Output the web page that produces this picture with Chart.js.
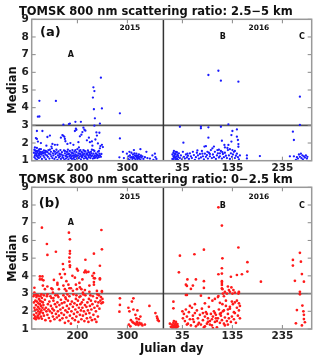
<!DOCTYPE html>
<html><head><meta charset="utf-8">
<script src="https://cdn.jsdelivr.net/npm/chart.js@4.4.1/dist/chart.umd.min.js"></script>
<style>
html,body{margin:0;padding:0;background:#fff;width:320px;height:362px;overflow:hidden;}
canvas{position:absolute;left:0;}
#ca{top:0;}
#cb{top:168px;}
</style></head><body>
<canvas id="ca" width="320" height="180"></canvas>
<canvas id="cb" width="320" height="194"></canvas>
<script>
// ---------- axis definitions ----------
const OFFSET_2016 = 375;          // axis value of 2016 Julian day 0
const DIVIDER_X = 372;            // year boundary
const X_MIN = 108.6, X_MAX = 668.6;
const xTickValues = [200, 300, 410, 510, 610];
const xTickLabels = ['200', '300', '35', '135', '235'];
const yTickValues = [1, 2, 3, 4, 5, 6, 7, 8, 9];
const THRESHOLD = 3;

// ---------- panel (a) 2.5-5 km : [Julian day, median] ----------
const a2015 = [
[121,3.49],[124,3.5],[124,4.39],[157,4.38],[172,3.04],[183,3.07],[185,3.1],[196,3.2],[207,3.2],[232,5.15],[234,4.94],[231,4.57],[233,3.91],[235,3.4],[234,2.98],[247,5.7],[249,3.96],[245,3.1],[285,3.68],[285,2.26],[284,1.19],
[119,2.68],[130,2.68],[117,2.28],[119,2.23],[121,2.08],[140,2.34],[145,2.42],[167,2.3],[172,2.4],[175,2.23],[195,2.68],[197,2.81],[210,2.62],[212,2.87],[214,2.75],[205,2.38],[208,2.47],[219,2.15],[229,2.09],[239,2.42],[244,2.58],[246,1.83],[249,1.9],[251,1.77],[170,2.45],[174,2.35],[176,2.1],[198,2.75],[202,2.05],[216,2.7],[223,2.3],[225,2.05],[236,2.2],[238,2.6],[241,1.98],[186,2.0],[180,1.95],[160,1.9],[150,1.95],[155,1.9],[115,1.75],[127,2.0],[138,1.85],[148,1.8],[192,1.9],[203,1.75],[230,1.85],[232,1.6],[245,1.7],
[113,1.45],[114,1.2],[114,1.62],[115,1.3],[116,1.12],[117,1.5],[118,1.38],[119,1.05],[119,1.72],[120,1.25],[121,1.55],[122,1.4],[123,1.15],[123,1.6],[124,1.32],[125,1.48],[126,1.22],[127,1.65],[128,1.35],[129,1.1],[130,1.5],[131,1.42],[132,1.28],[133,1.58],[134,1.18],[135,1.45],[136,1.35],[137,1.08],[138,1.52],[139,1.3],[141,1.22],[142,1.6],[143,1.4],[144,1.12],[146,1.35],[147,1.5],[148,1.25],[149,1.7],[150,1.15],[151,1.42],[152,1.3],[153,1.55],[154,1.1],[156,1.38],[157,1.2],[158,1.62],[159,1.45],[160,1.05],[161,1.3],[162,1.52],[163,1.18],[164,1.4],[165,1.25],[166,1.6],[167,1.1],[168,1.35],[169,1.48],[170,1.2],[171,1.3],[172,1.15],[173,1.58],[174,1.05],[175,1.42],[176,1.28],[177,1.12],[178,1.5],[179,1.35],[180,1.2],[181,1.62],[182,1.08],[183,1.4],[184,1.25],[185,1.55],[186,1.15],[187,1.32],[188,1.45],[189,1.1],[190,1.6],[191,1.28],[192,1.4],[193,1.18],[194,1.52],[195,1.05],[196,1.35],[197,1.22],[198,1.48],[199,1.12],[200,1.65],[201,1.3],[202,1.42],[203,1.15],[204,1.55],[205,1.25],[206,1.38],[207,1.08],[208,1.5],[209,1.2],[210,1.45],[211,1.32],[212,1.6],[213,1.12],[214,1.4],[215,1.25],[216,1.52],[217,1.18],[218,1.35],[219,1.42],[220,1.1],[221,1.58],[222,1.28],[223,1.2],[224,1.45],[225,1.35],[226,1.15],[227,1.5],[228,1.25],[229,1.62],[230,1.3],[231,1.12],[232,1.4],[233,1.22],[234,1.55],[235,1.3],[236,1.18],[237,1.42],[238,1.25],[239,1.35],[240,1.15],[241,1.5],[242,1.28],[243,1.2],[244,1.4],[245,1.3],[247,1.22],[248,1.38],
[116,1.4],[118,1.55],[120,1.48],[122,1.3],[124,1.65],[126,1.5],[128,1.45],[118,1.28],[115,1.58],[121,1.18],[125,1.38],[132,1.45],[136,1.55],[140,1.48],[145,1.62],[155,1.5],[165,1.35],[178,1.25],[182,1.38],[188,1.22],[192,1.12],[198,1.3],[204,1.4],[210,1.22],[214,1.55],[218,1.15],[222,1.48],[226,1.3],[190,1.45],[185,1.3],[175,1.55],[180,1.5],[200,1.25],[206,1.6],[212,1.35],[216,1.25],[208,1.3],[196,1.6],[194,1.28],[202,1.15],[220,1.35],[228,1.42],[234,1.15],[240,1.3],[243,1.55],
[291,1.5],[293,1.15],[299,1.4],[301,1.1],[302,1.25],[304,1.05],[305,1.3],[306,1.18],[308,1.45],[309,1.2],[310,1.1],[311,1.35],[312,1.22],[313,1.6],[314,1.15],[315,1.3],[316,1.08],[317,1.25],[318,1.4],[319,1.18],[320,1.1],[321,1.28],[322,1.2],[323,1.35],[324,1.12],[325,1.22],[326,1.05],[327,1.3],[328,1.18],[330,1.25],[332,1.1],[335,1.2],[338,1.5],[340,1.15],[345,1.12],[350,1.3],[352,1.05],[355,1.4],[356,1.2],[358,1.1],[304,1.5],[311,1.15],[314,1.42],[321,1.12],[326,1.65],[318,1.28]
];
const a2016 = [
[87,5.85],[107,6.09],[112,5.53],[147,5.47],[270,4.62],[270,3.02],[256,2.64],[258,2.17],[127,3.06],[112,2.92],[87,2.89],[72,2.92],[72,2.83],[30,2.92],[144,2.77],[135,2.68],[87,2.3],[37,2.02],[79,1.8],[82,1.82],[114,2.13],[119,1.89],[127,1.89],[133,2.08],[133,2.45],[144,2.36],[146,2.17],[147,1.94],[147,1.79],[190,1.26],[164,1.3],[164,1.13],
[15,1.1],[15,1.35],[16,1.05],[17,1.25],[17,1.45],[18,1.15],[19,1.3],[20,1.02],[20,1.4],[21,1.18],[22,1.08],[22,1.5],[23,1.25],[24,1.12],[25,1.35],[26,1.05],[27,1.2],[28,1.42],[30,1.15],[32,1.3],[34,1.08],[36,1.5],[38,1.22],[40,1.12],[42,1.35],[44,1.18],[46,1.28],[48,1.1],[50,1.42],[52,1.25],[54,1.15],[56,1.5],[58,1.32],[60,1.05],[62,1.2],[64,1.45],[66,1.3],[68,1.12],[70,1.38],[72,1.18],[74,1.55],[76,1.25],[78,1.08],[80,1.4],[82,1.22],[84,1.32],[86,1.12],[88,1.45],[90,1.25],[92,1.6],[94,1.15],[96,1.35],[98,1.2],[100,1.5],[102,1.1],[104,1.3],[106,1.42],[108,1.18],[110,1.25],[112,1.55],[114,1.12],[116,1.38],[118,1.2],[120,1.45],[122,1.28],[124,1.15],[126,1.6],[128,1.3],[130,1.1],[132,1.42],[134,1.22],[136,1.35],[138,1.5],[140,1.15],[142,1.28],[144,1.4],[146,1.2],[148,1.08],[150,1.3],[18,1.55],[19,1.2],[21,1.38],[23,1.1],[24,1.48],[26,1.28],[45,1.4],[65,1.58],[85,1.5],[95,1.7],[105,1.6],[115,1.48],[125,1.72],[135,1.6],[98,1.8],[108,1.62],[120,1.75],[130,1.65],[140,1.55],[110,1.42],[90,1.38],[75,1.4],
[258,1.25],[262,1.05],[264,1.2],[266,1.12],[268,1.35],[270,1.22],[272,1.4],[273,1.15],[275,1.3],[276,1.08],[278,1.25],[280,1.18],[282,1.3],[284,1.12],[285,1.22],[250,1.25]
];

// ---------- panel (b) 0-2.5 km : [Julian day, median] ----------
const b2015 = [
[129,6.72],[139,5.8],[140,5.18],[157,5.36],[183,6.44],[185,6.06],[185,5.4],[185,5.26],[184,5.03],[184,4.8],[185,4.6],[185,4.5],[248,6.59],[249,5.5],[245,4.57],[233,5.25],[216,4.91],[245,3.8],[249,3.14],[233,4.15],[233,3.87],
[125,3.97],[130,3.97],[132,3.75],[125,3.8],[129,3.8],[114,3.33],[114,3.05],[171,4.67],[172,4.37],[175,4.1],[165,4.1],[153,3.77],[199,4.39],[201,4.3],[214,4.2],[216,4.3],[218,4.2],[222,4.23],[235,3.86],[233,3.65],[233,3.5],[245,3.86],[224,3.45],[205,3.35],[208,3.25],[197,3.5],[199,3.25],[191,3.16],[184,3.3],[187,3.3],[172,3.45],[175,3.25],[163,3.25],[150,3.25],[148,3.3],[131,3.45],[135,3.25],[151,3.05],[178,3.15],[239,3.15],[249,3.1],[215,3.2],[211,3.05],[224,3.1],[160,3.6],[168,3.9],[178,3.7],[190,4.0],[204,3.6],[210,3.8],[230,4.0],[140,3.4],[182,3.5],[195,3.9],[160,3.5],
[112,2.85],[113,2.5],[113,1.8],[114,2.2],[114,1.6],[115,2.95],[115,2.05],[116,1.7],[116,2.6],[117,1.55],[117,2.35],[118,2.8],[118,1.9],[119,2.1],[119,2.55],[120,1.65],[120,2.9],[121,2.25],[121,1.75],[122,2.45],[122,2.0],[123,1.6],[123,2.7],[124,2.15],[124,1.85],[125,2.6],[125,2.4],[126,1.95],[126,2.85],[127,1.7],[127,2.3],[128,2.55],[128,2.05],[129,1.58],[129,2.75],[130,2.2],[131,1.9],[131,2.5],[132,2.35],[133,1.75],[133,2.9],[134,2.1],[135,2.65],
[136,1.5],[137,2.2],[138,2.0],[139,2.85],[140,1.8],[141,2.4],[142,2.1],[143,1.62],[144,2.55],[145,2.0],[146,1.45],[147,2.3],[148,2.75],[149,1.9],[150,2.15],[151,1.7],[152,2.6],[153,2.05],[154,1.55],[155,2.4],[156,2.9],[157,1.85],[158,2.25],[159,1.65],[160,2.5],[161,2.0],[162,2.8],[163,1.75],[164,2.35],[165,1.5],[166,2.1],[167,2.65],[168,1.9],[169,2.45],[170,1.6],
[171,2.2],[172,2.9],[173,1.8],[174,2.5],[175,1.35],[176,2.05],[177,2.7],[178,1.65],[179,2.3],[180,1.95],[181,2.6],[182,1.45],[183,2.15],[184,2.85],[185,1.75],[186,2.4],[187,1.3],[188,2.0],[189,2.55],[190,1.6],[191,2.25],[192,2.95],[193,1.85],[194,2.45],[195,1.5],[196,2.1],[197,2.7],[198,1.7],[199,2.35],[200,1.95],[201,2.6],[202,1.4],[203,2.2],[204,2.8],[205,1.8],[206,2.4],[207,2.05],[208,1.55],[209,2.5],[210,2.2],
[211,1.75],[212,2.65],[213,2.0],[214,1.45],[215,2.35],[216,2.9],[217,1.85],[218,2.25],[219,1.6],[220,2.5],[221,2.05],[222,1.4],[223,2.7],[224,1.9],[225,2.3],[226,1.65],[227,2.6],[228,2.1],[229,1.5],[230,2.4],[231,2.85],[232,1.8],[234,2.2],[235,1.55],[236,2.55],[237,2.0],[238,1.4],[239,2.75],[240,2.3],[241,1.7],[242,2.5],[243,2.9],[244,2.15],[246,2.6],[247,2.8],[248,2.45],[250,2.7],[251,2.5],
[114,2.95],[118,2.92],[122,2.88],[128,2.95],[140,2.95],[160,2.9],[180,2.95],[198,2.9],[212,2.95],[226,2.9],[240,2.95],[146,2.85],[152,2.75],[176,2.78],[206,2.85],
[285,2.73],[285,2.36],[284,1.98],[309,2.55],[312,2.73],[302,2.2],[304,2.0],[307,1.5],[310,1.4],[303,1.25],[306,1.15],[312,1.35],[315,1.3],[317,1.25],[319,1.4],[320,1.3],[322,1.22],[324,1.35],[326,1.28],[328,1.3],[318,1.6],[316,1.8],[320,2.05],[326,1.7],[344,2.3],[356,1.9],[359,1.7],[361,1.5],[363,1.45],[360,1.6],[312,2.1],[330,1.2],[335,1.25],[323,1.55]
];
const b2016 = [
[30,5.14],[28,4.2],[59,5.22],[78,5.48],[107,7.87],[114,6.84],[115,4.99],[114,4.43],[114,4.13],[114,3.7],[114,3.49],[114,3.3],[107,4.09],[147,5.6],[154,4.09],[165,4.24],[165,4.77],[192,3.67],[256,4.9],[256,4.58],[270,5.3],[272,4.8],[274,4.1],[260,3.72],[278,3.67],[270,3.1],[270,2.96],[264,2.07],[275,2.32],[277,2.0],[278,1.8],[278,1.56],[280,1.38],[262,1.32],[274,1.2],
[45,3.8],[62,3.8],[42,3.5],[44,3.43],[52,3.26],[56,3.45],[78,3.7],[78,3.32],[114,3.6],[115,3.25],[116,3.0],[126,3.4],[130,3.1],[133,3.35],[135,3.0],[128,3.2],[148,3.05],[148,3.1],[147,3.0],[132,3.95],[144,4.05],[120,3.1],[124,3.0],[137,3.2],[140,3.05],
[72,2.88],[88,2.75],[95,2.6],[100,2.7],[106,2.8],[107,2.86],[110,2.48],[42,2.92],[44,2.92],[115,2.4],[122,2.6],[130,2.25],[140,2.5],[144,2.6],[148,2.45],[150,2.3],[126,2.1],[134,2.55],[60,2.4],[50,2.3],[80,2.45],[118,2.85],
[10,1.3],[12,1.12],[14,1.25],[15,1.05],[16,1.18],[17,1.35],[18,1.08],[19,1.22],[20,1.15],[21,1.3],[22,1.05],[23,1.2],[24,1.1],[25,1.28],[22,1.4],[18,1.45],[26,1.15],[17,2.54],[17,2.17],
[35,2.0],[36,1.6],[38,1.85],[40,1.45],[42,2.1],[44,1.7],[46,1.3],[48,1.95],[50,1.55],[52,1.2],[54,2.2],[56,1.75],[58,1.4],[60,1.9],[62,1.15],[64,2.05],[66,1.6],[68,1.35],[70,1.8],[72,1.25],[74,2.15],[76,1.5],[78,1.1],[80,1.7],[82,1.95],[84,1.3],[86,1.6],[88,2.25],[90,1.45],[92,1.85],[94,1.2],[96,1.7],[98,2.0],[100,1.4],[102,1.8],[104,1.1],[106,1.6],[108,2.1],[110,1.35],[112,1.75],[114,1.5],[116,2.0],[118,1.3],[120,1.65],[122,2.3],[124,1.45],[126,1.85],[128,1.6],[130,2.15],[132,1.4],[134,1.7],[136,2.4],[138,1.55],[140,1.9],[142,1.35],[144,2.2],[146,1.75],[148,2.05],[150,1.6],[80,1.15],[84,1.85],[90,1.25],[94,1.55],[100,1.9],[104,1.45],[110,1.85],[120,1.2],[96,1.05],[86,1.4],[76,1.9],[66,1.25],[56,1.55],[44,1.25],[112,1.9],[126,1.25],[138,1.95],[118,2.05],[102,1.6]
];

// ---------- annotations: [text, axis x, y value, kind] ----------
const annA = [['(a)',146,8.22,'big'],['2015',305,8.5,'yr'],['2016',563,8.5,'yr'],['A',187,7,'ev'],['B',491,8,'ev'],['C',649,8,'ev']];
const annB = [['(b)',144,8.1,'big'],['2015',305,8.47,'yr'],['2016',563,8.47,'yr'],['A',187,6.97,'ev'],['B',491,7.96,'ev'],['C',649,7.96,'ev']];

const FONT = "'DejaVu Sans', sans-serif";
const fontFor = {big: "bold 13px " + FONT, yr: "bold 7.5px " + FONT, ev: "bold 8px " + FONT};

function toPts(arr, off) { return arr.map(([d, v]) => ({x: d + off, y: v})); }

const decor = {
  id: 'decor',
  afterDatasetsDraw(chart, args, opts) {
    const {ctx, chartArea: {left, right, top, bottom}, scales: {x, y}} = chart;
    ctx.save();
    const ln = (x1, y1, x2, y2) => { ctx.beginPath(); ctx.moveTo(x1, y1); ctx.lineTo(x2, y2); ctx.stroke(); };
    ctx.strokeStyle = '#888'; ctx.lineWidth = 1;
    y.ticks.forEach(t => { const p = y.getPixelForValue(t.value); ln(left, p, left + 4, p); ln(right - 4, p, right, p); });
    x.ticks.forEach(t => { const p = x.getPixelForValue(t.value); ln(p, bottom, p, bottom - 4); ln(p, top, p, top + 4); });
    ctx.strokeStyle = '#999'; ctx.lineWidth = 1.5;
    ctx.strokeRect(left, top, right - left, bottom - top);
    ctx.fillStyle = '#111'; ctx.textAlign = 'center'; ctx.textBaseline = 'middle';
    opts.labels.forEach(([t, xv, yv, k]) => { ctx.font = fontFor[k]; ctx.fillText(t, x.getPixelForValue(xv), y.getPixelForValue(yv)); });
    ctx.restore();
  }
};

function makeChart(id, title, s2015, s2016, color, radius, ann, showXTitle, xHeight, hColor) {
  const pts = toPts(s2015, 0).concat(toPts(s2016, OFFSET_2016));
  return new Chart(document.getElementById(id), {
    type: 'scatter',
    data: {datasets: [
      {data: [{x: X_MIN, y: THRESHOLD}, {x: X_MAX, y: THRESHOLD}], showLine: true, borderColor: hColor, borderWidth: 1.6, pointRadius: 0, order: 3},
      {data: [{x: DIVIDER_X, y: 1}, {x: DIVIDER_X, y: 9}], showLine: true, borderColor: '#333', borderWidth: 1.5, pointRadius: 0, order: 2},
      {data: pts, backgroundColor: color, borderWidth: 0, pointRadius: radius, pointStyle: 'circle', order: 1}
    ]},
    options: {
      responsive: false, animation: false, events: [], devicePixelRatio: 1,
      layout: {padding: {left: 0, right: 8.3, top: 0, bottom: 0}},
      plugins: {
        legend: {display: false}, tooltip: {enabled: false},
        title: {display: true, text: title, color: '#111', font: {family: FONT, size: 11.5, weight: 'bold'}, padding: {top: 5.5, bottom: 0}},
        decor: {labels: ann}
      },
      scales: {
        x: {
          type: 'linear', min: X_MIN, max: X_MAX,
          afterBuildTicks: s => { s.ticks = xTickValues.map(v => ({value: v})); },
          afterFit: s => { s.height = xHeight; },
          ticks: {callback: (v, i) => xTickLabels[i], color: '#222', padding: 1, maxRotation: 0, font: {family: FONT, size: 10.5, weight: 'bold'}},
          grid: {display: false, drawTicks: false}, border: {display: false},
          title: {display: showXTitle, text: 'Julian day', color: '#111', font: {family: FONT, size: 11.5, weight: 'bold'}, padding: {top: 0, bottom: 6.4}}
        },
        y: {
          min: 1, max: 9,
          afterBuildTicks: s => { s.ticks = yTickValues.map(v => ({value: v})); },
          afterFit: s => { s.width = 31.7; },
          ticks: {color: '#222', padding: 3, font: {family: FONT, size: 10.5, weight: 'bold'}},
          grid: {display: false, drawTicks: false}, border: {display: false},
          title: {display: true, text: 'Median', color: '#111', font: {family: FONT, size: 11.5, weight: 'bold'}, padding: {top: 6.4, bottom: 0}}
        }
      }
    },
    plugins: [decor]
  });
}

makeChart('ca', 'TOMSK 800 nm scattering ratio: 2.5\u22125 km', a2015, a2016, '#1a1aff', 1.15, annA, false, 19.3, '#555');
makeChart('cb', 'TOMSK 800 nm scattering ratio: 0\u22122.5 km', b2015, b2016, '#ff1a1a', 1.35, annB, true, 33, '#777');
</script>
</body></html>
